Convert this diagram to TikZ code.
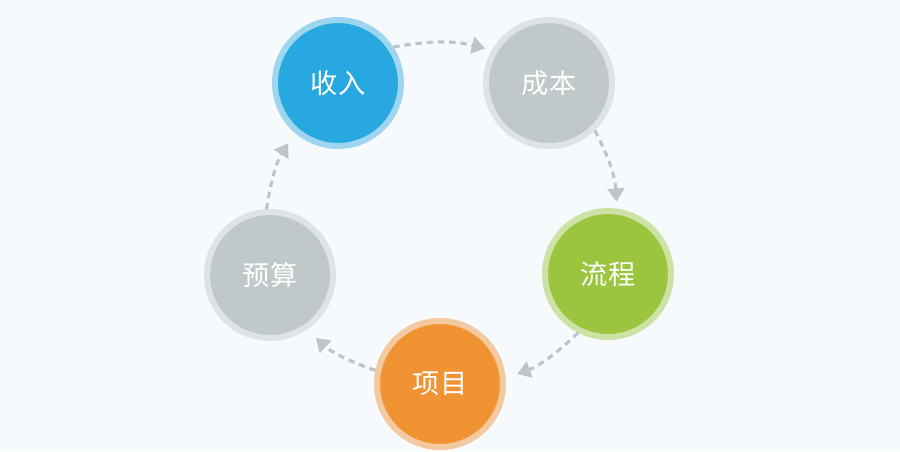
\documentclass[tikz,border=0pt]{standalone}
\usepackage{xcolor}
\usepackage{fontspec}
\usepackage{tikz}
\usetikzlibrary{arrows.meta}
\newfontfamily\cjkfont{Noto Sans CJK SC}
\definecolor{cyclebg}{RGB}{246,250,253}
\definecolor{cycleblue}{RGB}{40,168,224}
\definecolor{cyclebluering}{RGB}{158,214,240}
\definecolor{cyclegray}{RGB}{192,200,202}
\definecolor{cyclegrayring}{RGB}{223,227,229}
\definecolor{cyclegreen}{RGB}{155,197,63}
\definecolor{cyclegreenring}{RGB}{205,227,165}
\definecolor{cycleorange}{RGB}{241,147,51}
\definecolor{cycleorangering}{RGB}{245,201,160}
\definecolor{cyclearrowgray}{RGB}{190,197,200}
\tikzset{
  cyclenode/.style={
    circle,
    minimum size=2.52cm,
    inner sep=0pt,
    line width=0.12cm,
    text=white,
    font=\cjkfont\fontsize{15.5}{18}\selectfont
  },
  cyclearrow/.style={
    -{Triangle[length=7.5pt,width=9.5pt]},
    line width=1.8pt,
    dash pattern=on 3.6pt off 2.8pt,
    draw=cyclearrowgray,
    bend left=12,
    shorten >=4pt
  }
}

\begin{document}
\begin{tikzpicture}[x=0.02cm,y=-0.02cm]
\fill[cyclebg] (0,0) rectangle (900,451);
\useasboundingbox (0,0) rectangle (900,451);
\node[cyclenode, fill=cycleblue, draw=cyclebluering] (income) at (338,83) {收入};
\node[cyclenode, fill=cyclegray, draw=cyclegrayring] (cost) at (549,83) {成本};
\node[cyclenode, fill=cyclegreen, draw=cyclegreenring] (process) at (608,274) {流程};
\node[cyclenode, fill=cycleorange, draw=cycleorangering] (project) at (440,384) {项目};
\node[cyclenode, fill=cyclegray, draw=cyclegrayring] (budget) at (270,275) {预算};

\draw[cyclearrow] (income.33) to (cost.150);
\draw[cyclearrow] (cost.-46) to (process.82);
\draw[cyclearrow, shorten >=7pt] (process.-117) to (project.5);
\draw[cyclearrow, shorten >=7pt] (project.168) to (budget.-56);
\draw[cyclearrow, shorten >=7pt] (budget.93) to (income.-131);
\end{tikzpicture}
\end{document}
